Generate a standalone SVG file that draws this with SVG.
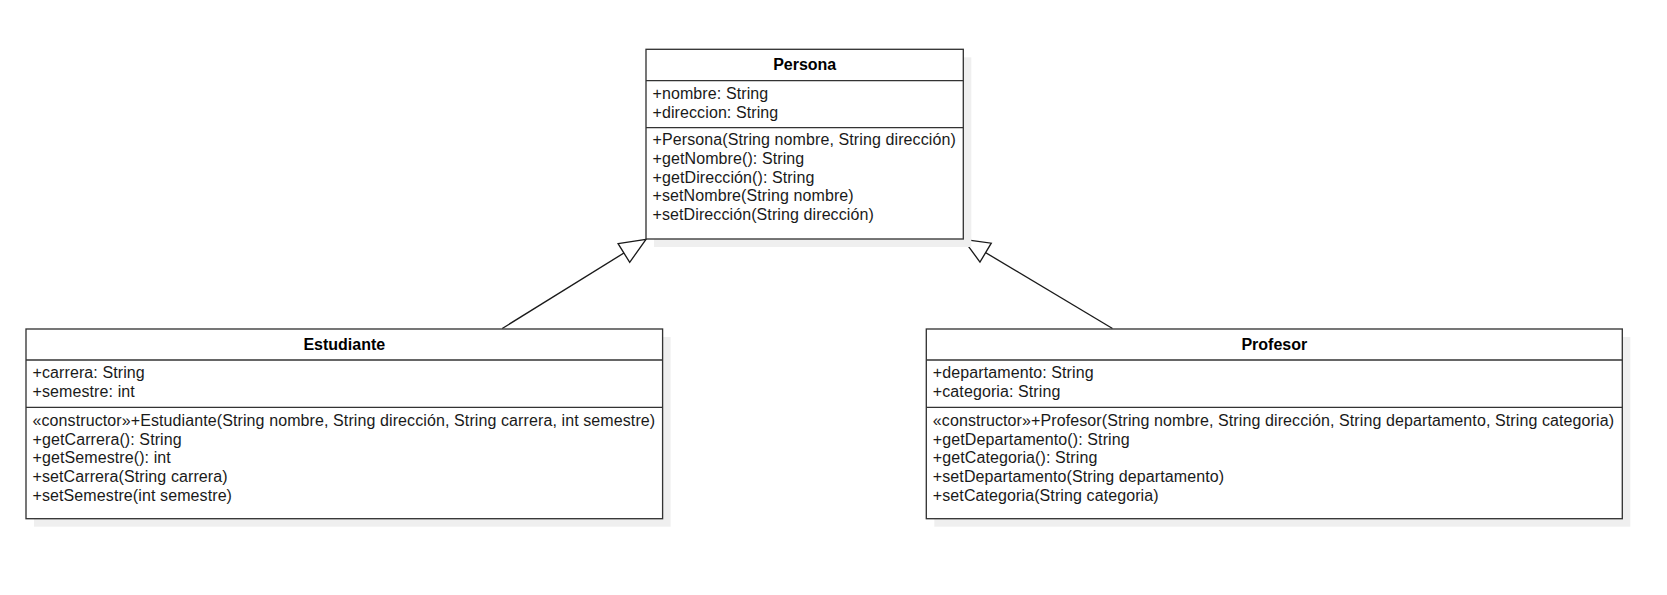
<svg xmlns="http://www.w3.org/2000/svg" width="1667" height="595" viewBox="0 0 1667 595">
  <style>
    .shadow { fill: #efefef; stroke: none; }
    .box { fill: #ffffff; stroke: #333333; stroke-width: 1.33; }
    .sep { stroke: #333333; stroke-width: 1.33; fill: none; }
    .title { font-family: "Liberation Sans", Arial, sans-serif; font-size: 16px; font-weight: bold; fill: #000000; text-anchor: middle; }
    .member { font-family: "Liberation Sans", Arial, sans-serif; font-size: 16px; letter-spacing: 0.1px; fill: #1a1a1a; }
    .edge { stroke: #1a1a1a; stroke-width: 1.33; fill: none; }
  </style>
  <defs>
    <!-- hollow triangle for generalization -->
    <marker id="inherit" markerUnits="userSpaceOnUse" markerWidth="30" markerHeight="26" refX="27" refY="12" orient="auto" overflow="visible">
      <path d="M 1 1 L 27 12 L 1 23 Z" fill="#ffffff" stroke="#1a1a1a" stroke-width="1.33"/>
    </marker>
  </defs>
  <rect width="1667" height="595" fill="#ffffff"/>

  <!-- connectors -->
  <g id="connectors">
    <path class="edge" d="M 502.2 328.5 L 646 239.3" marker-end="url(#inherit)"/>
    <path class="edge" d="M 1112.5 328.5 L 963.3 239.3" marker-end="url(#inherit)"/>
  </g>

  <!-- Persona -->
  <g id="persona">
    <rect class="shadow" x="654" y="57.3" width="317.3" height="189.7"/>
    <rect class="box" x="646" y="49.3" width="317.3" height="189.7"/>
    <line class="sep" x1="646" y1="80.7" x2="963.3" y2="80.7"/>
    <line class="sep" x1="646" y1="127.7" x2="963.3" y2="127.7"/>
    <text class="title" x="804.7" y="69.5">Persona</text>
    <text class="member" x="652.5" y="99.2">+nombre: String</text>
    <text class="member" x="652.5" y="117.8">+direccion: String</text>
    <text class="member" x="652.5" y="145.3">+Persona(String nombre, String dirección)</text>
    <text class="member" x="652.5" y="164">+getNombre(): String</text>
    <text class="member" x="652.5" y="182.6">+getDirección(): String</text>
    <text class="member" x="652.5" y="201.3">+setNombre(String nombre)</text>
    <text class="member" x="652.5" y="220">+setDirección(String dirección)</text>
  </g>

  <!-- Estudiante -->
  <g id="estudiante">
    <rect class="shadow" x="34" y="337" width="636.6" height="189.7"/>
    <rect class="box" x="26" y="329" width="636.6" height="189.7"/>
    <line class="sep" x1="26" y1="360" x2="662.6" y2="360"/>
    <line class="sep" x1="26" y1="407.3" x2="662.6" y2="407.3"/>
    <text class="title" x="344.3" y="349.5">Estudiante</text>
    <text class="member" x="32.5" y="378.3">+carrera: String</text>
    <text class="member" x="32.5" y="397">+semestre: int</text>
    <text class="member" x="32.5" y="426">«constructor»+Estudiante(String nombre, String dirección, String carrera, int semestre)</text>
    <text class="member" x="32.5" y="444.7">+getCarrera(): String</text>
    <text class="member" x="32.5" y="463.3">+getSemestre(): int</text>
    <text class="member" x="32.5" y="482">+setCarrera(String carrera)</text>
    <text class="member" x="32.5" y="500.7">+setSemestre(int semestre)</text>
  </g>

  <!-- Profesor -->
  <g id="profesor">
    <rect class="shadow" x="934.3" y="337" width="696" height="189.7"/>
    <rect class="box" x="926.3" y="329" width="696" height="189.7"/>
    <line class="sep" x1="926.3" y1="360" x2="1622.3" y2="360"/>
    <line class="sep" x1="926.3" y1="407.3" x2="1622.3" y2="407.3"/>
    <text class="title" x="1274.3" y="349.5">Profesor</text>
    <text class="member" x="932.8" y="378.3">+departamento: String</text>
    <text class="member" x="932.8" y="397">+categoria: String</text>
    <text class="member" x="932.8" y="426">«constructor»+Profesor(String nombre, String dirección, String departamento, String categoria)</text>
    <text class="member" x="932.8" y="444.7">+getDepartamento(): String</text>
    <text class="member" x="932.8" y="463.3">+getCategoria(): String</text>
    <text class="member" x="932.8" y="482">+setDepartamento(String departamento)</text>
    <text class="member" x="932.8" y="500.7">+setCategoria(String categoria)</text>
  </g>
</svg>
